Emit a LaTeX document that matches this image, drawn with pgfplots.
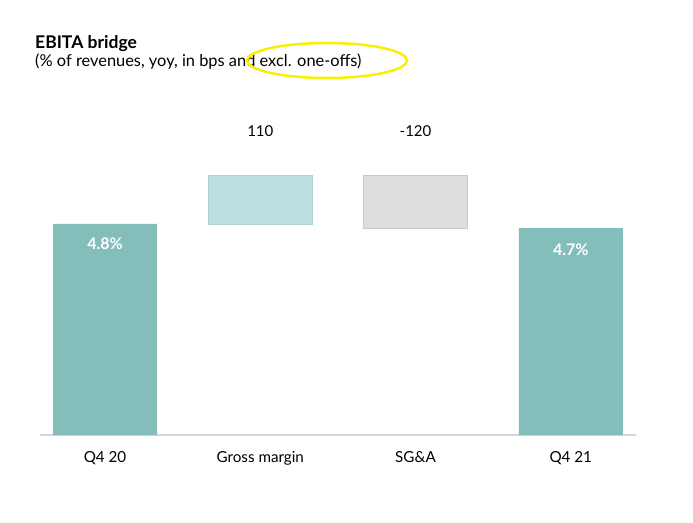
\documentclass[border=0pt]{standalone}
\usepackage{fontspec}
\setmainfont{Lato}
\usepackage{pgfplots}
\pgfplotsset{compat=1.18}
\definecolor{tealbar}{HTML}{84BEBA}
\definecolor{lightteal}{HTML}{BAE0DF}
\definecolor{lightgray}{HTML}{DDDDDD}
\definecolor{edgegray}{HTML}{C8C8C8}
\definecolor{axisgray}{HTML}{D6D6D6}
\definecolor{marker}{HTML}{F7F000}

\begin{document}
\begin{tikzpicture}[x=1pt,y=1pt]
\useasboundingbox (0,0) rectangle (693,522);
\node[anchor=base west, inner sep=0, font=\bfseries\fontsize{17.5}{20}\selectfont] at (35,473) {EBITA bridge};
\node[anchor=base west, inner sep=0, font=\fontsize{16.4}{19}\selectfont] at (35,455) {(\% of revenues, yoy, in bps and excl. one-offs)};
\draw[marker, line width=2.5pt] (327,461.5) ellipse [x radius=80, y radius=17.5];
\begin{axis}[
  at={(40pt,87pt)}, anchor=south west,
  scale only axis, width=596pt, height=325.6pt,
  xmin=-0.419, xmax=3.42, ymin=0, ymax=7.4,
  axis x line*=bottom, axis y line=none,
  axis line style={-, draw=axisgray, line width=1.2pt},
  ybar stacked, bar width=104pt,
  xtick={0,1,2,3},
  xticklabels={Q4 20, Gross margin, SG\&A, Q4 21},
  major tick length=0pt,
  xticklabel style={font=\fontsize{15.2}{17}\selectfont, yshift=-13pt},
  clip=false
]
  % invisible base
  \addplot[draw=none, fill=none] coordinates {(0,0) (1,4.8) (2,4.7) (3,0)};
  \addplot[draw=none, fill=tealbar] coordinates {(0,4.8) (1,0) (2,0) (3,4.7)};
  \addplot[draw=lightteal!85!gray, line width=0.3pt, fill=lightteal] coordinates {(0,0) (1,1.1) (2,0) (3,0)};
  \addplot[draw=edgegray, line width=0.6pt, fill=lightgray] coordinates {(0,0) (1,0) (2,1.2) (3,0)};
  \coordinate (a) at (axis cs:0,4.34);
  \coordinate (b) at (axis cs:3,4.22);
  \coordinate (c) at (axis cs:1,6.91);
  \coordinate (d) at (axis cs:2,6.91);
\end{axis}
\node[font=\bfseries\fontsize{16}{18}\selectfont, text=white] at (a) {4.8\%};
\node[font=\bfseries\fontsize{16}{18}\selectfont, text=white] at (b) {4.7\%};
\node[font=\fontsize{15}{17}\selectfont] at (c) {110};
\node[font=\fontsize{15}{17}\selectfont] at (d) {-120};
\end{tikzpicture}
\end{document}
